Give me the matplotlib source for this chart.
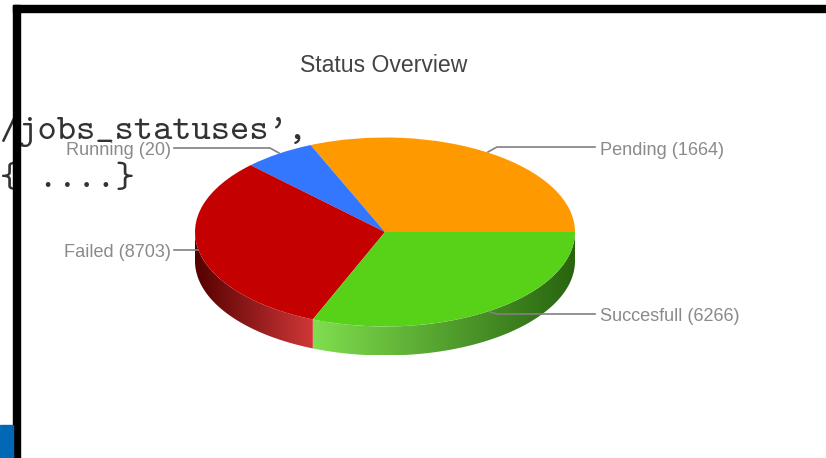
import numpy as np
import matplotlib
matplotlib.use("Agg")
import matplotlib.pyplot as plt
from matplotlib.patches import Polygon, Rectangle

categories = ["Pending", "Running", "Failed", "Succesfull"]
counts = [1664, 20, 8703, 6266]
shares = [31.4, 6.1, 31.3, 31.2]
colors = ["#FF9900", "#3377FF", "#C40000", "#58D218"]

W, H = 826, 458
cx, cy = 385, 232
rx, ry = 190, 94.5
depth = 29 / ry

fig = plt.figure(figsize=(W / 100, H / 100), dpi=100)

# pie, stretched by giving the axes unequal scales
ax = fig.add_axes([0, 0, 1, 1])
wedges, _ = ax.pie(shares, colors=colors, startangle=0, counterclock=True)
for w in wedges:
    w.set_zorder(3)
ax.set_aspect("auto")
xlim = (-cx / rx, (W - cx) / rx)
ylim = (-(H - cy) / ry, cy / ry)


def wall(start, end, c_left, c_right):
    t = np.radians(np.linspace(start, end, 120))
    x, y = np.cos(t), np.sin(t)
    pts = np.vstack([np.c_[x, y], np.c_[x[::-1], y[::-1] - depth]])
    grad = np.linspace(c_left, c_right, 256)[None, :, :] / 255
    im = ax.imshow(grad, extent=(x.min(), x.max(), -1 - depth, 0.1), aspect="auto", zorder=1)
    im.set_clip_path(Polygon(pts, closed=True, transform=ax.transData))


edges = 360 * np.cumsum(shares) / np.sum(shares)
wall(180, edges[2], (85, 0, 0), (208, 55, 55))
wall(edges[2], 360, (128, 222, 78), (40, 100, 15))
ax.set_xlim(xlim)
ax.set_ylim(ylim)
ax.axis("off")

# everything else sits on a pixel-sized overlay
top = fig.add_axes([0, 0, 1, 1], facecolor="none")
top.set_xlim(0, W)
top.set_ylim(H, 0)
top.axis("off")

top.text(383.5, 66, "Status Overview", ha="center", va="center", fontsize=16.6,
         family="Liberation Sans", color="#444444")

label_color = "#8a8a8a"
label_pos = [(600, 150.5, "left"), (171, 150.5, "right"), (171, 252.5, "right"), (600, 316.5, "left")]
leaders = [
    ([595, 497, 488], [147, 147, 152]),
    ([174, 270, 279], [148, 148, 153]),
    ([174, 198], [250, 250]),
    ([595, 497, 490], [314, 314, 312]),
]
for name, n, (x, y, ha), (lx, ly) in zip(categories, counts, label_pos, leaders):
    top.text(x, y, f"{name} ({n})", ha=ha, va="center", fontsize=13.05,
             family="Liberation Sans", color=label_color)
    top.plot(lx, ly, color="#808080", lw=1.2, zorder=2)

top.text(0, 139, "/jobs_statuses',", ha="left", va="baseline", fontsize=26.4,
         family="cmtt10", color="#333333", zorder=4)
top.text(0, 187, "{ ....}", ha="left", va="baseline", fontsize=26.4,
         family="cmtt10", color="#333333", zorder=4)

# slide frame and the blue footer corner
top.add_patch(Rectangle((13, 5), 7, H, color="black", zorder=5))
top.add_patch(Rectangle((13, 5), W, 7, color="black", zorder=5))
top.add_patch(Rectangle((0, 425), 13, 33, color="#0068B4", zorder=5))

fig.savefig("out.png", dpi=100)
